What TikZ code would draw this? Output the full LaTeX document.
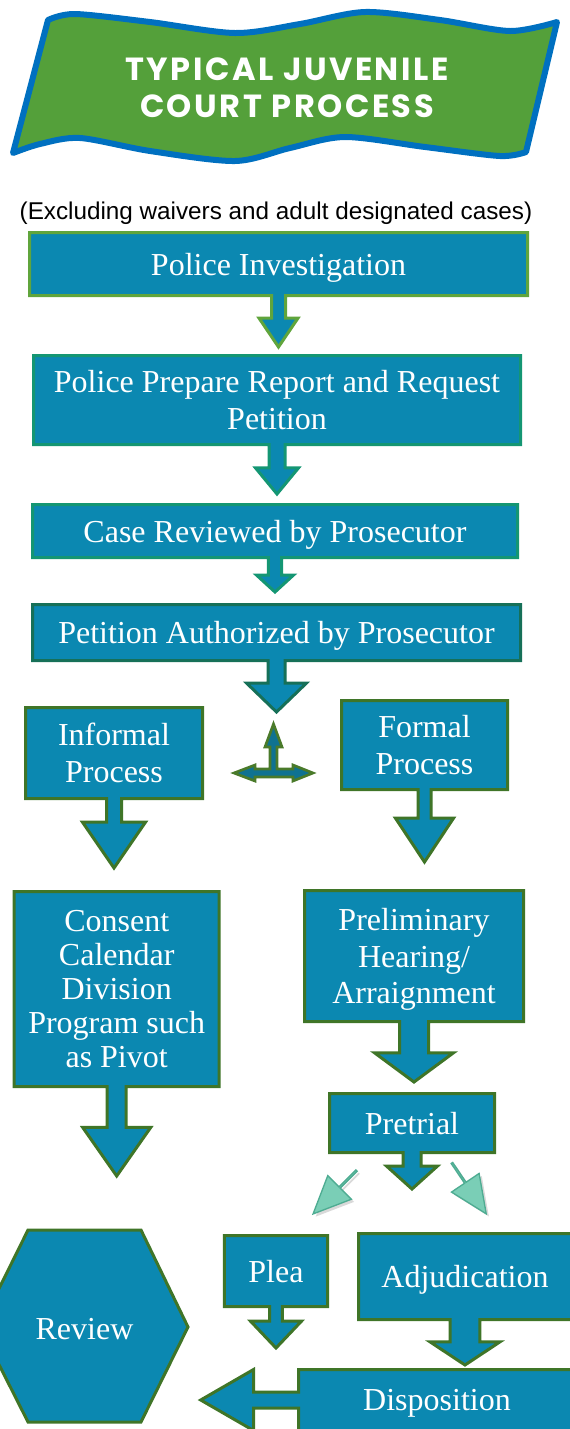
\documentclass[tikz,border=0pt]{standalone}
\usepackage{fontspec}
\setmainfont{Liberation Serif}
\newfontfamily\notefont{Liberation Sans}
\newfontfamily\bannerfont[LetterSpace=8]{Poppins}
\usetikzlibrary{shapes.arrows,shadows}
\definecolor{stageblue}{RGB}{11,136,177}
\definecolor{stagegreen}{RGB}{63,117,40}
\definecolor{greenA}{RGB}{96,165,60}
\definecolor{tealA}{RGB}{20,150,115}
\definecolor{tealB}{RGB}{22,112,88}
\definecolor{splitblue}{RGB}{15,114,145}
\definecolor{splitgreen}{RGB}{74,122,42}
\definecolor{glossfill}{RGB}{122,206,182}
\definecolor{glossedge}{RGB}{78,172,146}
\definecolor{bannergreen}{RGB}{84,160,58}
\definecolor{bannerblue}{RGB}{0,112,192}

\begin{document}
\begin{tikzpicture}[x=0.75pt, y=-0.75pt,
    stage/.style={arrow box, draw=stagegreen, fill=stageblue, line width=2.25pt, text=white,
        align=center, inner sep=2pt, text depth=0pt, font=\fontsize{24}{27.5}\selectfont},
    glossy/.style={single arrow, draw=glossedge, fill=glossfill, line width=1pt, inner sep=0pt,
        single arrow tip angle=48, single arrow head extend=8.5pt, minimum height=46pt, minimum width=25pt,
        drop shadow={shadow xshift=2pt, shadow yshift=-2pt, opacity=.3}}]

    \useasboundingbox (0,0) rectangle (569,1429);

    %banner
    \filldraw[draw=bannerblue, fill=bannergreen, line width=4.5pt, line join=round]
        plot[smooth] coordinates {(48,20) (75,14) (150,22) (235,33) (300,24) (365,12) (440,20) (510,31) (557,22)}
        -- plot[smooth] coordinates {(526,152) (500,156) (425,147) (345,137) (290,148) (235,161) (150,151) (80,138) (40,144) (13,153)}
        -- cycle;
    \node[text=white, align=center, font=\bannerfont\bfseries\fontsize{24}{27.75}\selectfont] (title) at (287,88) {TYPICAL JUVENILE\\COURT PROCESS};
    \node[font=\notefont\fontsize{18.2}{20}\selectfont] (note) at (276,213) {(Excluding waivers and adult designated cases)};

    %stages
    \node[stage, draw=greenA, minimum width=373.5pt, minimum height=47.25pt, arrow box tip angle=68,
        arrow box shaft width=10.5pt, arrow box head extend=9.4pt, arrow box arrows={south:37.5pt}] (investigation) at (278.5,264) {Police Investigation};
    \node[stage, draw=tealA, minimum width=365.25pt, minimum height=66.75pt, arrow box tip angle=79,
        arrow box shaft width=12pt, arrow box head extend=10.1pt, arrow box arrows={south:36pt}] (report) at (277,400) {Police Prepare Report and Request\\Petition};
    \node[stage, draw=tealA, minimum width=363.75pt, minimum height=39.75pt, arrow box tip angle=95,
        arrow box shaft width=10.1pt, arrow box head extend=8.8pt, arrow box arrows={south:24.75pt}] (screening) at (275,531) {Case Reviewed by Prosecutor};
    \node[stage, draw=tealB, minimum width=366pt, minimum height=42pt, arrow box tip angle=92,
        arrow box shaft width=12.75pt, arrow box head extend=16.1pt, arrow box arrows={south:37.5pt}] (authorized) at (276.5,632.5) {Petition Authorized by Prosecutor};

    \node[stage, minimum width=132.75pt, minimum height=68.25pt, arrow box tip angle=69,
        arrow box shaft width=11.25pt, arrow box head extend=18pt, arrow box arrows={south:51pt}] (informal) at (114,753) {Informal\\Process};
    \node[stage, minimum width=124.5pt, minimum height=66.75pt, arrow box tip angle=67,
        arrow box shaft width=9.75pt, arrow box head extend=16.9pt, arrow box arrows={south:53.25pt}] (formal) at (424.5,745) {Formal\\Process};

    \node[stage, font=\fontsize{24}{25.5}\selectfont, minimum width=153.75pt, minimum height=146.25pt, arrow box tip angle=70,
        arrow box shaft width=14.25pt, arrow box head extend=18.4pt, arrow box arrows={south:66pt}] (consent) at (116.7,989) {Consent\\Calendar\\Division\\Program such\\as Pivot};
    \node[stage, minimum width=164.25pt, minimum height=98.25pt, arrow box tip angle=107,
        arrow box shaft width=21.75pt, arrow box head extend=18.75pt, arrow box arrows={south:44.25pt}] (prelim) at (414,956) {Preliminary\\Hearing/\\Arraignment};
    \node[stage, minimum width=123.75pt, minimum height=44.25pt, arrow box tip angle=96,
        arrow box shaft width=13.5pt, arrow box head extend=12.4pt, arrow box arrows={south:26.25pt}] (pretrial) at (412,1123) {Pretrial};

    \node[stage, minimum width=77.6pt, minimum height=53.25pt, arrow box tip angle=87,
        arrow box shaft width=9.4pt, arrow box head extend=14.4pt, arrow box arrows={south:30pt}] (plea) at (276,1271) {Plea};
    \node[stage, minimum width=159.75pt, minimum height=64.5pt, arrow box tip angle=113,
        arrow box shaft width=22.2pt, arrow box head extend=15pt, arrow box arrows={south:33pt}] (adjudication) at (465,1276.5) {Adjudication};
    \node[stage, minimum width=207.4pt, minimum height=45.75pt, arrow box tip angle=60,
        arrow box shaft width=12pt, arrow box head extend=16.9pt, arrow box arrows={west:72.4pt}] (disposition) at (437,1400) {Disposition};

    %review
    \filldraw[draw=stagegreen, fill=stageblue, line width=2.25pt]
        (28,1230) -- (141,1230) -- (188,1327) -- (141,1422) -- (28,1422) -- (-20,1327) -- cycle;
    \node[text=white, font=\fontsize{24}{27.5}\selectfont] (review) at (84.5,1329) {Review};

    %split arrow
    \filldraw[draw=splitgreen, fill=splitblue, line width=2pt]
        (273.5,724) -- (282,747) -- (277,747) -- (277,769) -- (293,769) -- (293,765) -- (313,773)
        -- (293,781) -- (293,777) -- (255,777) -- (255,781) -- (234,773) -- (255,765) -- (255,769)
        -- (270,769) -- (270,747) -- (265,747) -- cycle;

    %glossy arrows
    \node[glossy, rotate=225] (toplea) at (335.5,1191.5) {};
    \node[glossy, rotate=-56] (totrial) at (468.5,1187.5) {};
\end{tikzpicture}
\end{document}
